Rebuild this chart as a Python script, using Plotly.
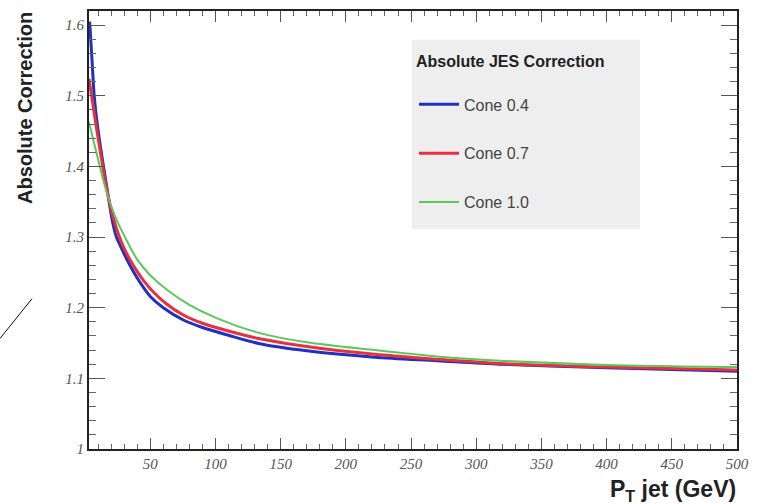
import plotly.graph_objects as go

pt_blue = [3.5, 5, 7, 9, 12, 15, 18, 21, 24, 27, 30, 35, 40, 45, 50, 60, 75, 90, 110, 134, 170, 222, 270, 318, 400, 500]
corr_blue = [1.605, 1.56, 1.50, 1.465, 1.425, 1.39, 1.355, 1.322, 1.30, 1.288, 1.276, 1.258, 1.242, 1.228, 1.216, 1.200, 1.183, 1.172, 1.161, 1.149, 1.139, 1.130, 1.125, 1.120, 1.115, 1.110]

pt_red = [3, 5, 7, 10, 14, 18, 22, 26, 30, 35, 40, 45, 52, 62, 75, 90, 110, 134, 170, 222, 270, 318, 400, 500]
corr_red = [1.524, 1.50, 1.475, 1.44, 1.395, 1.355, 1.325, 1.302, 1.284, 1.266, 1.251, 1.238, 1.223, 1.206, 1.190, 1.178, 1.167, 1.156, 1.145, 1.134, 1.127, 1.121, 1.116, 1.112]

pt_green = [3, 6, 10, 14, 18, 24, 30, 40, 50, 63, 80, 100, 134, 170, 222, 270, 318, 400, 500]
corr_green = [1.463, 1.44, 1.41, 1.38, 1.355, 1.325, 1.302, 1.268, 1.246, 1.225, 1.204, 1.186, 1.164, 1.151, 1.140, 1.131, 1.125, 1.119, 1.116]

series_names = ["Cone 0.4", "Cone 0.7", "Cone 1.0"]
legend_title = "Absolute JES Correction"
x_title = "P<sub>T</sub> jet (GeV)"
y_title = "Absolute Correction"

W, H = 760, 504
L, R, T, B = 89, 23, 9, 55
pw, ph = W - L - R, H - T - B


def px_x(x):
    return (x - L) / pw


def px_y(y):
    return 1 - (y - T) / ph


fig = go.Figure()
fig.add_trace(go.Scatter(x=pt_blue, y=corr_blue, mode="lines", name=series_names[0],
                         line=dict(color="#2030c0", width=3, shape="spline", smoothing=0.8),
                         legendgroup="a"))
fig.add_trace(go.Scatter(x=pt_red, y=corr_red, mode="lines", name=series_names[1],
                         line=dict(color="#e8303c", width=3, shape="spline", smoothing=0.8),
                         legendgroup="b"))
fig.add_trace(go.Scatter(x=pt_green, y=corr_green, mode="lines", name=series_names[2],
                         line=dict(color="#5cc85c", width=2, shape="spline", smoothing=0.8),
                         legendgroup="c"))

tickfont = dict(family="Liberation Serif", size=15, color="#555555", style="italic")
axcommon = dict(showgrid=False, zeroline=False, showline=True, linecolor="#222222",
                linewidth=2, mirror="ticks", ticks="inside", tickcolor="#555555",
                tickfont=tickfont)

fig.update_xaxes(range=[3, 500], tick0=0, dtick=50, ticklen=11, tickwidth=1,
                 minor=dict(dtick=10, ticklen=5, ticks="inside", tickcolor="#666666"),
                 **axcommon)
fig.update_yaxes(range=[1, 1.62], tick0=1, dtick=0.1, ticklen=16, tickwidth=1,
                 minor=dict(dtick=0.02, ticklen=7, ticks="inside", tickcolor="#666666"),
                 **axcommon)

# legend background box
fig.add_shape(type="rect", xref="paper", yref="paper",
              x0=px_x(412), x1=px_x(640), y0=px_y(228), y1=px_y(38),
              fillcolor="#eeeeee", line=dict(width=0), layer="below")
# stray diagonal stroke at the left edge
fig.add_shape(type="line", xref="paper", yref="paper",
              x0=px_x(0), y0=px_y(338), x1=px_x(32), y1=px_y(298),
              line=dict(color="#111111", width=1))

fig.add_annotation(text="<b>" + y_title + "</b>", textangle=-90, xref="paper", yref="paper",
                   x=px_x(25), y=px_y(8), xanchor="center", yanchor="top", showarrow=False,
                   font=dict(family="Liberation Sans", size=20, color="#222222"))
fig.add_annotation(text="<b>" + x_title + "</b>", xref="paper", yref="paper",
                   x=px_x(738), y=px_y(474), xanchor="right", yanchor="top", showarrow=False,
                   font=dict(family="Liberation Sans", size=23, color="#222222"))

fig.update_layout(
    width=W, height=H,
    margin=dict(l=L, r=R, t=T, b=B),
    paper_bgcolor="white", plot_bgcolor="white",
    showlegend=True,
    legend=dict(x=px_x(414), y=px_y(44), xanchor="left", yanchor="top",
                bgcolor="rgba(0,0,0,0)", borderwidth=0,
                title=dict(text="<b>" + legend_title + "</b><br> ",
                           font=dict(family="Liberation Sans", size=16, color="#222222")),
                font=dict(family="Liberation Sans", size=16, color="#444444"),
                tracegroupgap=25, itemwidth=40),
)

fig.write_html("out.html")
